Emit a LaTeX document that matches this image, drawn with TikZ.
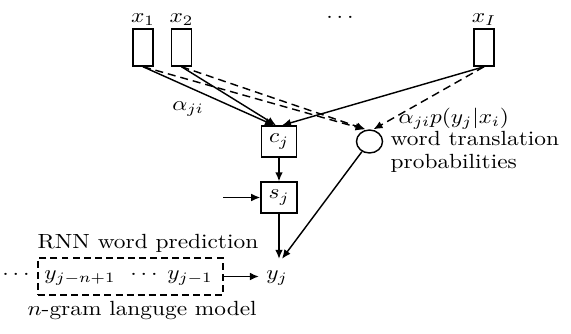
\documentclass[tikz,border=0pt]{standalone}
\usetikzlibrary{arrows.meta,shapes.geometric,calc}
\newcommand{\sx}[1]{\scalebox{1.14}[1]{#1}}
\begin{document}
\begin{tikzpicture}[x=0.4878pt,y=-0.4878pt, line width=0.7pt,
  >={Latex[length=4.4pt,width=3.8pt]},
  lbl/.style={inner sep=0pt},
  inbox/.style={draw, minimum width=9.76pt, minimum height=18.05pt, inner sep=0pt},
  opbox/.style={draw, minimum height=15.1pt, inner sep=0pt},
  dsh/.style={dash pattern=on 3.9pt off 2.4pt},
  bdsh/.style={dash pattern=on 3.4pt off 2pt}]
\useasboundingbox (0,0) rectangle (571,333);
% input boxes
\node[inbox] (b1) at (143,47.5) {};
\node[inbox] (b2) at (181.5,47.5) {};
\node[inbox] (bI) at (484,47.5) {};
\node[lbl, anchor=base] (l1) at (143,22) {\sx{$x_1$}};
\node[lbl, anchor=base] (l2) at (181.5,22) {\sx{$x_2$}};
\node[lbl, anchor=base] (ld) at (340,22) {\sx{$\cdots$}};
\node[lbl, anchor=base] (lI) at (484,22) {\sx{$x_I$}};
% middle
\node[opbox, minimum width=17.1pt] (cj) at (279,141.5) {\sx{$c_j$}};
\node[opbox, minimum width=17.6pt] (sj) at (279,197.5) {\sx{$s_j$}};
\node[draw, ellipse, minimum width=12.7pt, minimum height=11.2pt, inner sep=0pt] (circ) at (369.5,141.5) {};
\node[lbl, anchor=base] (aji) at (188,110) {\sx{$\alpha_{ji}$}};
\node[lbl, anchor=base west] (ap) at (398,123) {\sx{$\alpha_{ji}p(y_j|x_i)$}};
\node[lbl, anchor=base west] (wt) at (390,145) {\sx{word translation}};
\node[lbl, anchor=base west] (pr) at (390,168) {\sx{probabilities}};
\coordinate (sin) at (223,197.5);
% bottom
\node[lbl, anchor=base west] (rnn) at (37,248) {\sx{RNN word prediction}};
\node[draw, bdsh, minimum width=90.2pt, minimum height=18.05pt, inner sep=0pt] (dbox) at (130.5,276.5) {};
\node[lbl, anchor=base] (y1) at (80,279) {\sx{$y_{j-n+1}$}};
\node[lbl, anchor=base] (y2) at (144,279) {\sx{$\cdots$}};
\node[lbl, anchor=base] (y3) at (190,279) {\sx{$y_{j-1}$}};
\node[lbl, anchor=base] (y0) at (16,279) {\sx{$\cdots$}};
\node[anchor=base, inner xsep=3.3pt, inner ysep=5.2pt] (yj) at (277,279) {\sx{$y_j$}};
\node[lbl, anchor=base west] (ng) at (27,315) {\sx{$n$-gram languge model}};
% connectors
\draw[->] (b1.south) -- ($(cj.north)+(-5,0)$);
\draw[->] (b2.south) -- ($(cj.north)+(-3,0)$);
\draw[->] (bI.south) -- ($(cj.north)+(3,0)$);
\draw[->,dsh] (b1.south) -- ($(circ.north)+(-5,0)$);
\draw[->,dsh] (b2.south) -- ($(circ.north)+(-4,0)$);
\draw[->,dsh] (bI.south) -- ($(circ.north)+(4,0)$);
\draw[->] (cj) -- (sj);
\draw[->] (sin) -- (sj.west);
\draw[->] (sj.south) -- (sj.south |- yj.north);
\draw[->] (circ) -- ($(yj.north)+(5,0)$);
\draw[->] (dbox.east) -- (dbox.east -| yj.west);
\end{tikzpicture}
\end{document}
